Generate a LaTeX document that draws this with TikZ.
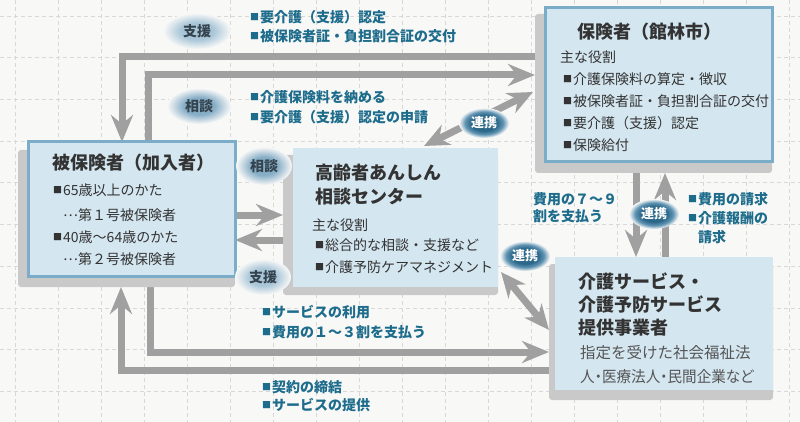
\documentclass[tikz,border=0pt]{standalone}
\usepackage{fontspec}
\setmainfont{Noto Sans CJK JP}
\usetikzlibrary{arrows.meta,shapes.geometric}
\pgfdeclarelayer{bgl}
\pgfdeclarelayer{arl}
\pgfsetlayers{bgl,arl,main}
\definecolor{bg}{HTML}{F8F8F7}
\definecolor{gridc}{HTML}{D8D8D8}
\definecolor{boxfill}{HTML}{D4E6F0}
\definecolor{boxline}{HTML}{7BACC8}
\definecolor{shadowc}{HTML}{C9C9C9}
\definecolor{arrowc}{HTML}{A0A0A0}
\definecolor{labelc}{HTML}{1E6C8C}
\definecolor{textc}{HTML}{333333}
\definecolor{descc}{HTML}{555555}
\definecolor{bubL}{HTML}{A9C6D8}
\definecolor{bubM}{HTML}{87AEC7}
\definecolor{bubD}{HTML}{2B6789}
\definecolor{bubDe}{HTML}{5F93B2}
\definecolor{bubtext}{HTML}{34434D}
\pgfdeclareradialshading{blobL}{\pgfpoint{0bp}{0bp}}{color(0bp)=(bubL); color(12bp)=(bubL); color(25bp)=(bg); color(50bp)=(bg)}
\pgfdeclareradialshading{blobM}{\pgfpoint{0bp}{0bp}}{color(0bp)=(bubM); color(12bp)=(bubM); color(25bp)=(bg); color(50bp)=(bg)}
\pgfdeclareradialshading{blobD}{\pgfpoint{0bp}{0bp}}{color(0bp)=(bubD); color(13bp)=(bubD); color(19bp)=(bubDe); color(25bp)=(bg); color(50bp)=(bg)}
\newcommand\sqb{\raisebox{1.5pt}{\fontsize{9}{9}\selectfont ■}\kern1pt}
\newcommand\midell{\raisebox{4pt}{…}}
\tikzset{
  garrow/.style={draw=arrowc, line width=7pt, -{Stealth[length=27pt,width=22pt,inset=9pt]}},
  gboth/.style={draw=arrowc, line width=7pt, {Stealth[length=25pt,width=22pt,inset=8pt]}-{Stealth[length=25pt,width=22pt,inset=8pt]}},
  shadowbox/.style={fill=shadowc, draw=none, rounded corners=3pt, inner sep=0pt, outer sep=0pt},
  bluebox/.style={fill=boxfill, draw=boxline, line width=3pt, inner sep=0pt, outer sep=0pt},
  plainbox/.style={fill=boxfill, draw=none, inner sep=0pt, outer sep=0pt},
  bubble/.style={ellipse, inner sep=0pt, outer sep=0pt, text=bubtext, font=\fontsize{14}{14}\selectfont\bfseries},
  dbubble/.style={ellipse, shading=blobD, inner sep=0pt, outer sep=0pt, text=white, font=\fontsize{13}{13}\selectfont\bfseries, minimum width=50pt, minimum height=30pt},
  lbl/.style={anchor=west, inner sep=0pt, text height=12.3pt, text depth=1.7pt, text=labelc, font=\fontsize{14}{16}\selectfont\bfseries},
  ttl/.style={anchor=west, inner sep=0pt, text height=15.8pt, text depth=2.2pt, text=textc, font=\fontsize{18}{20}\selectfont\bfseries},
  bdy/.style={anchor=west, inner sep=0pt, text height=12.3pt, text depth=1.7pt, text=textc, font=\fontsize{14}{16}\selectfont},
  dsc/.style={anchor=west, inner sep=0pt, text height=13.6pt, text depth=1.9pt, text=descc, font=\fontsize{15.5}{17}\selectfont},
}
\begin{document}
\begin{tikzpicture}[x=1pt,y=-1pt]
\useasboundingbox (0,0) rectangle (800,422);
\begin{pgfonlayer}{bgl}
  \fill[bg] (0,0) rectangle (800,422);
  \foreach \i in {0,...,18} \draw[gridc, line width=0.8pt, dash pattern=on 4pt off 3pt] ({15+43*\i},0) -- ({15+43*\i},422);
  \foreach \j in {0,...,9} \draw[gridc, line width=0.8pt, dash pattern=on 4pt off 3pt] (0,{16+41.7*\j}) -- (800,{16+41.7*\j});
\end{pgfonlayer}

% shadows and boxes
\node[shadowbox, minimum width=237pt, minimum height=159pt] (s1) at (653.5,93.5) {};
\node[bluebox, minimum width=227pt, minimum height=154pt] (b1) at (658.5,85) {};
\node[shadowbox, minimum width=217pt, minimum height=137pt] (s2) at (126.5,218.5) {};
\node[bluebox, minimum width=207pt, minimum height=134pt] (b2) at (131.5,209) {};
\node[shadowbox, minimum width=215pt, minimum height=140pt] (s3) at (390.5,225) {};
\node[plainbox, minimum width=205pt, minimum height=139pt] (b3) at (395.5,217.5) {};
\node[shadowbox, minimum width=224pt, minimum height=136pt] (s4) at (661,332) {};
\node[plainbox, minimum width=218pt, minimum height=133pt] (b4) at (664,323.5) {};

% connector coordinates
\coordinate (cA) at (122,57);
\coordinate (cB) at (148,75);
\coordinate (cC1) at (424,146);
\coordinate (cC2) at (533,92);
\coordinate (cD1) at (0,215);
\coordinate (cD2) at (0,240);
\coordinate (cE1) at (636,0);
\coordinate (cE2) at (665,0);
\coordinate (cF1) at (501,272);
\coordinate (cF2) at (549,330);
\coordinate (cG) at (150,352);
\coordinate (cH) at (121,370);

\begin{pgfonlayer}{arl}
  \draw[garrow] (s1.west |- cA) -- (cA) -- (cA |- b2.north);
  \draw[garrow] (cB |- b2.north) -- (cB) -- (cB -| s1.west);
  \draw[gboth] (cC1) -- (cC2);
  \draw[garrow] (b2.east |- cD1) -- (s3.west |- cD1);
  \draw[garrow] (s3.west |- cD2) -- (b2.east |- cD2);
  \draw[garrow] (cE1 |- s1.south) -- (cE1 |- b4.north);
  \draw[garrow] (cE2 |- b4.north) -- (cE2 |- s1.south);
  \draw[gboth] (cF1) -- (cF2);
  \draw[garrow] (cG |- s2.south) -- (cG) -- (cG -| s4.west);
  \draw[garrow] (s4.west |- cH) -- (cH) -- (cH |- s2.south);
\end{pgfonlayer}

% box texts
\node[ttl] (t1) at (577,32) {保険者（館林市）};
\node[bdy] (t1a) at (560,57) {主な役割};
\node[bdy] (t1b) at (563,79) {\sqb 介護保険料の算定・徴収};
\node[bdy] (t1c) at (563,101) {\sqb 被保険者証・負担割合証の交付};
\node[bdy] (t1d) at (563,123) {\sqb 要介護（支援）認定};
\node[bdy] (t1e) at (563,145) {\sqb 保険給付};

\node[ttl] (t2) at (52,163) {被保険者（加入者）};
\node[bdy] (t2a) at (53,190) {\sqb 65歳以上のかた};
\node[bdy] (t2b) at (63,215) {\midell 第１号被保険者};
\node[bdy] (t2c) at (53,237) {\sqb 40歳～64歳のかた};
\node[bdy] (t2d) at (63,259) {\midell 第２号被保険者};

\node[ttl] (t3a) at (315,173) {高齢者あんしん};
\node[ttl] (t3b) at (315,197) {相談センター};
\node[bdy] (t3c) at (312,225) {主な役割};
\node[bdy] (t3d) at (315,245) {\sqb 総合的な相談・支援など};
\node[bdy] (t3e) at (315,267) {\sqb 介護予防ケアマネジメント};

\node[ttl] (t4a) at (578,282) {介護サービス・};
\node[ttl] (t4b) at (578,305) {介護予防サービス};
\node[ttl] (t4c) at (578,328) {提供事業者};
\node[dsc] (t4d) at (580,353) {指定を受けた社会福祉法};
\node[dsc] (t4e) at (580,377) {\addfontfeatures{RawFeature=+palt}\scalebox{0.94}[1]{人・医療法人・民間企業など}};

% bubbles
\node[bubble, shading=blobL, minimum width=68pt, minimum height=36pt] (bu1) at (197,31) {支援};
\node[bubble, shading=blobM, minimum width=64pt, minimum height=36pt] (bu2) at (199,106) {相談};
\node[bubble, shading=blobM, minimum width=56pt, minimum height=38pt] (bu3) at (264,166) {相談};
\node[bubble, shading=blobL, minimum width=56pt, minimum height=36pt] (bu4) at (263,277) {支援};
\node[dbubble] (bu5) at (484,123) {連携};
\node[dbubble] (bu6) at (654,214) {連携};
\node[dbubble] (bu7) at (525,256) {連携};

% labels
\node[lbl] (l1) at (250,17) {\sqb 要介護（支援）認定};
\node[lbl] (l2) at (250,36) {\sqb 被保険者証・負担割合証の交付};
\node[lbl] (l3) at (250,97) {\sqb 介護保険料を納める};
\node[lbl] (l4) at (250,117) {\sqb 要介護（支援）認定の申請};
\node[lbl] (l5) at (533,199) {費用の７～９};
\node[lbl] (l6) at (533,216) {割を支払う};
\node[lbl] (l7) at (688,199) {\sqb 費用の請求};
\node[lbl] (l8) at (688,218) {\sqb 介護報酬の};
\node[lbl] (l9) at (698,237) {請求};
\node[lbl] (l10) at (262,312) {\sqb サービスの利用};
\node[lbl] (l11) at (262,332) {\sqb 費用の１～３割を支払う};
\node[lbl] (l12) at (262,387) {\sqb 契約の締結};
\node[lbl] (l13) at (262,405) {\sqb サービスの提供};
\end{tikzpicture}
\end{document}
